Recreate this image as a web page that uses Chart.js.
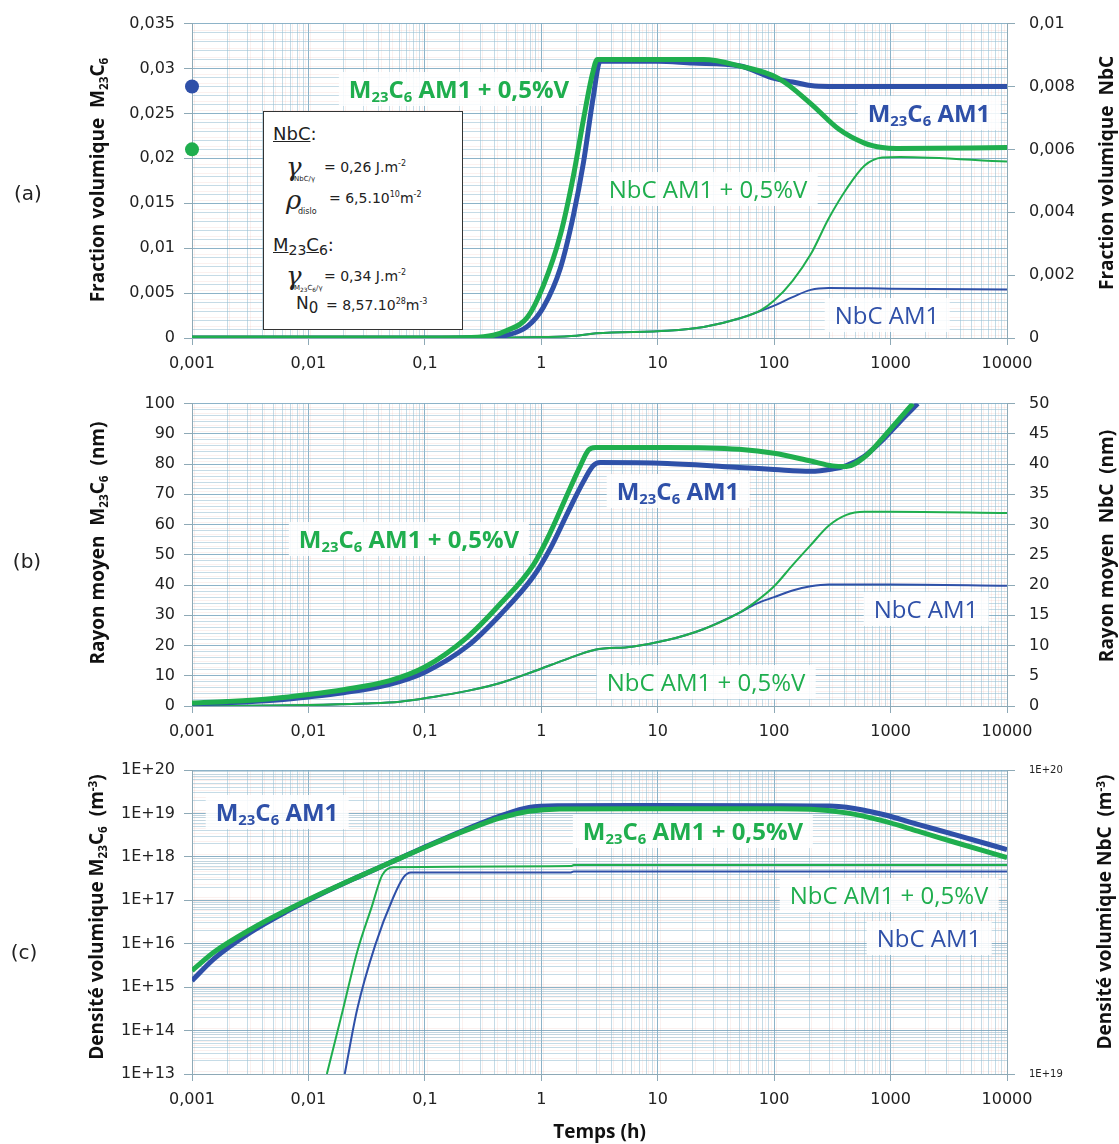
<!DOCTYPE html>
<html>
<head>
<meta charset="utf-8">
<script src="https://cdn.jsdelivr.net/npm/chart.js@4.4.1/dist/chart.umd.min.js"></script>
<style>
  body { margin: 0; background: #fff; }
  #wrap { position: relative; width: 1119px; height: 1144px; overflow: hidden; font-family: 'Open Sans', sans-serif; }
  canvas { position: absolute; left: 0; }
  .lbl { position: absolute; transform: translate(-50%, -50%); white-space: nowrap; font-size: 24px; line-height: 30px;
         background: rgba(255, 255, 255, 0.85); padding: 2px 10px; }
  .lbl sub, .yt sub { font-size: 0.62em; vertical-align: -0.3em; line-height: 0; }
  .yt sup { font-size: 0.62em; vertical-align: 0.55em; line-height: 0; }
  .b { font-weight: 700; }
  .blue { color: #2f50a8; }
  .green { color: #1fae4e; }
  .yt { position: absolute; transform: translate(-50%, -50%) rotate(-90deg); white-space: nowrap;
        font-weight: 700; font-size: 19px; color: #111; }
  .panel { position: absolute; transform: translate(-50%, -50%); font-family: 'DejaVu Sans'; font-size: 20px; color: #222; }
  #params { position: absolute; left: 263px; top: 111px; width: 198px; height: 217px; border: 1px solid #333;
            background: #fff; font-family: 'DejaVu Sans'; color: #222; }
  #params span { position: absolute; white-space: nowrap; line-height: 1; }
  #params sup { font-size: 8px; vertical-align: 6px; }
  .greek { font-family: 'DejaVu Serif'; font-style: italic; font-size: 26px; }
  .tiny { font-size: 7px; }
</style>
</head>
<body>
<div id="wrap">
  <canvas id="chartA" width="1119" height="380" style="top:0"></canvas>
  <canvas id="chartB" width="1119" height="370" style="top:380px"></canvas>
  <canvas id="chartC" width="1119" height="394" style="top:750px"></canvas>

  <div class="panel" style="left:28px;top:193px">(a)</div>
  <div class="panel" style="left:27px;top:561px">(b)</div>
  <div class="panel" style="left:24px;top:952px">(c)</div>

  <div class="yt" style="left:97px;top:180px">Fraction volumique&nbsp; M<sub>23</sub>C<sub>6</sub></div>
  <div class="yt" style="left:1106px;top:173px">Fraction volumique&nbsp; NbC</div>
  <div class="yt" style="left:97px;top:543px">Rayon moyen&nbsp; M<sub>23</sub>C<sub>6</sub>&nbsp; (nm)</div>
  <div class="yt" style="left:1106px;top:546px">Rayon moyen&nbsp; NbC&nbsp; (nm)</div>
  <div class="yt" style="left:96px;top:917px">Densité volumique M<sub>23</sub>C<sub>6</sub>&nbsp; (m<sup>-3</sup>)</div>
  <div class="yt" style="left:1104px;top:912px">Densité volumique NbC&nbsp; (m<sup>-3</sup>)</div>

  <div class="lbl b green" style="left:459px;top:89px">M<sub>23</sub>C<sub>6</sub> AM1 + 0,5%V</div>
  <div class="lbl b blue" style="left:929px;top:113px">M<sub>23</sub>C<sub>6</sub> AM1</div>
  <div class="lbl green" style="left:708px;top:189px">NbC AM1 + 0,5%V</div>
  <div class="lbl blue" style="left:887px;top:315px">NbC AM1</div>

  <div class="lbl b blue" style="left:678px;top:491px">M<sub>23</sub>C<sub>6</sub> AM1</div>
  <div class="lbl b green" style="left:409px;top:539px">M<sub>23</sub>C<sub>6</sub> AM1 + 0,5%V</div>
  <div class="lbl blue" style="left:926px;top:609px">NbC AM1</div>
  <div class="lbl green" style="left:706px;top:682px">NbC AM1 + 0,5%V</div>

  <div class="lbl b blue" style="left:277px;top:812px">M<sub>23</sub>C<sub>6</sub> AM1</div>
  <div class="lbl b green" style="left:693px;top:831px">M<sub>23</sub>C<sub>6</sub> AM1 + 0,5%V</div>
  <div class="lbl green" style="left:889px;top:895px">NbC AM1 + 0,5%V</div>
  <div class="lbl blue" style="left:929px;top:938px">NbC AM1</div>

  <div id="params">
    <span style="left:9px;top:13px;font-size:18px"><u>NbC</u>:</span>
    <span class="greek" style="left:22px;top:42px">γ</span>
    <span class="tiny" style="left:30px;top:64px">NbC/γ</span>
    <span style="left:60px;top:48px;font-size:14px">= 0,26 J.m<sup>-2</sup></span>
    <span class="greek" style="left:22px;top:75px">ρ</span>
    <span class="tiny" style="left:34px;top:96px;font-size:8px">dislo</span>
    <span style="left:65px;top:79px;font-size:14px">= 6,5.10<sup>10</sup>m<sup>-2</sup></span>
    <span style="left:9px;top:124px;font-size:18px"><u>M</u><span style="position:static;font-size:14px;vertical-align:-4px">23</span><u>C</u><span style="position:static;font-size:14px;vertical-align:-4px">6</span>:</span>
    <span class="greek" style="left:22px;top:151px">γ</span>
    <span class="tiny" style="left:30px;top:173px">M<sub>23</sub>C<sub>6</sub>/γ</span>
    <span style="left:60px;top:157px;font-size:14px">= 0,34 J.m<sup>-2</sup></span>
    <span style="left:32px;top:183px;font-size:17px">N<span style="position:static;font-size:15px;vertical-align:-4px">0</span></span>
    <span style="left:62px;top:186px;font-size:14px">= 8,57.10<sup>28</sup>m<sup>-3</sup></span>
  </div>
</div>

<script>
// ---------- (a) Fraction volumique ----------
const tA_M23_AM1 = [0.001, 0.1, 0.3, 0.5, 0.76, 1.04, 1.46, 1.89, 2.3, 2.8, 3.2, 10, 20, 50, 100, 144, 206, 294, 1000, 10000]
const fA_M23_AM1 = [0, 0, 0.00005, 0.0003, 0.0013, 0.0034, 0.0078, 0.0137, 0.0195, 0.0269, 0.0308, 0.0308, 0.0306, 0.0303, 0.0289, 0.0285, 0.0281, 0.028, 0.028, 0.028]
const tA_M23_V = [0.001, 0.1, 0.25, 0.387, 0.5, 0.76, 1.04, 1.46, 1.89, 2.3, 2.75, 3.03, 10, 24.8, 50, 109, 206, 363, 596, 847, 1125, 10000]
const fA_M23_V = [0, 0, 0.00005, 0.0003, 0.0008, 0.0023, 0.0058, 0.0115, 0.0181, 0.0243, 0.0294, 0.031, 0.031, 0.031, 0.0303, 0.0289, 0.0261, 0.0232, 0.0217, 0.0212, 0.0211, 0.0212]
const tA_NbC_AM1 = [0.001, 0.3, 1, 2, 2.96, 12.1, 24.8, 50, 100, 144, 206, 294, 1000, 10000]
const fA_NbC_AM1 = [0, 0.00001, 0.00003, 0.00007, 0.00015, 0.00023, 0.00035, 0.00062, 0.00103, 0.0013, 0.00153, 0.00159, 0.00157, 0.00154]
const tA_NbC_V = [0.001, 0.3, 1, 2, 2.96, 12.1, 24.8, 50, 76.5, 100, 144, 206, 294, 418, 596, 847, 1208, 10000]
const fA_NbC_V = [0, 0.00001, 0.00003, 0.00007, 0.00015, 0.00023, 0.00035, 0.00062, 0.00088, 0.00119, 0.00182, 0.00266, 0.0038, 0.00474, 0.00548, 0.00574, 0.00576, 0.00561]
// starting values marked by dots at t = 0.001 (AM1, AM1 + 0,5%V)
const dotsA = [0.028, 0.021]

// ---------- (b) Rayon moyen (nm) ----------
const tB_M23_AM1 = [0.001, 0.002, 0.005, 0.01, 0.02, 0.05, 0.1, 0.232, 0.445, 0.855, 1.2, 1.68, 2.3, 2.8, 3.2, 12.1, 50, 100, 206, 317, 418, 596, 847, 1208, 1714]
const rB_M23_AM1 = [0.7, 1.1, 1.9, 3.0, 4.4, 7.2, 11.2, 19.8, 30.2, 42.8, 52.2, 63.8, 74.2, 79.5, 80.5, 80.2, 78.9, 78.2, 77.6, 78.4, 79.5, 82.6, 87.8, 94.1, 100]
const tB_M23_V = [0.001, 0.002, 0.005, 0.01, 0.02, 0.05, 0.1, 0.232, 0.445, 0.855, 1.2, 1.68, 2.17, 2.54, 2.92, 12.1, 50, 100, 206, 317, 418, 596, 847, 1208, 1553]
const rB_M23_V = [1.0, 1.5, 2.5, 3.8, 5.4, 8.4, 12.9, 22.8, 33.8, 46.7, 57.5, 70.1, 79.5, 84.6, 85.5, 85.5, 84.9, 83.6, 81.0, 79.4, 79.2, 82.3, 88.4, 95.2, 100]
const tB_NbC_AM1 = [0.001, 0.01, 0.03, 0.061, 0.118, 0.232, 0.445, 0.855, 1.68, 2.9, 6.0, 12.1, 24.6, 50, 70, 100, 144, 206, 294, 1000, 10000]
const rB_NbC_AM1 = [0, 0.15, 0.4, 0.7, 1.5, 2.5, 3.8, 5.7, 7.8, 9.3, 9.8, 10.9, 12.7, 15.4, 16.9, 18.0, 19.1, 19.8, 20.1, 20.1, 19.9]
const tB_NbC_V = [0.001, 0.01, 0.03, 0.061, 0.118, 0.232, 0.445, 0.855, 1.68, 2.9, 6.0, 12.1, 24.6, 50, 70, 100, 144, 206, 294, 418, 596, 1000, 10000]
const rB_NbC_V = [0, 0.15, 0.4, 0.7, 1.5, 2.5, 3.8, 5.7, 7.8, 9.3, 9.8, 10.9, 12.7, 15.4, 17.3, 19.8, 23.3, 26.6, 29.8, 31.6, 32.1, 32.1, 31.9]

// ---------- (c) Densité volumique (m-3) ----------
const tC_M23_AM1 = [0.001, 0.00156, 0.00315, 0.0064, 0.013, 0.0262, 0.0534, 0.108, 0.219, 0.445, 0.783, 1.44, 10, 100, 300, 418, 847, 1714, 3490, 10000]
const nC_M23_AM1 = [1.41e15, 4.6e15, 1.8e16, 5.4e16, 1.41e17, 3.37e17, 7.9e17, 1.85e18, 4.16e18, 8.75e18, 1.38e19, 1.5e19, 1.52e19, 1.51e19, 1.48e19, 1.39e19, 9.6e18, 5.6e18, 3.3e18, 1.47e18]
const tC_M23_V = [0.001, 0.00156, 0.00315, 0.0064, 0.013, 0.0262, 0.0534, 0.108, 0.219, 0.445, 0.783, 1.44, 10, 100, 206, 418, 847, 1714, 3490, 10000]
const nC_M23_V = [2.4e15, 6.5e15, 2.1e16, 5.8e16, 1.45e17, 3.4e17, 7.9e17, 1.8e18, 3.95e18, 7.9e18, 1.12e19, 1.27e19, 1.29e19, 1.28e19, 1.25e19, 1.03e19, 6.8e18, 3.9e18, 2.2e18, 9.6e17]
const tC_NbC_AM1 = [0.0205, 0.0262, 0.0374, 0.0534, 0.066, 0.076, 1.8, 1.9, 10000]
const nC_NbC_AM1 = [1e19, 1.63e19, 2.65e19, 3.8e19, 4.45e19, 4.6e19, 4.6e19, 4.64e19, 4.64e19]
const tC_NbC_V = [0.0144, 0.0198, 0.0262, 0.0349, 0.043, 0.0534, 1.8, 1.9, 10000]
const nC_NbC_V = [1e19, 1.63e19, 2.52e19, 3.54e19, 4.51e19, 4.79e19, 4.83e19, 4.87e19, 4.87e19]

const BLUE = '#2f50a8'
const GREEN = '#1fae4e'
const GRID_MAJOR = 'rgba(112,160,186,0.8)'
const GRID_MINOR = 'rgba(150,190,210,0.55)'
const AXIS = '#8ea9b6'
const NONE = 'rgba(0,0,0,0)'
const TICK_FONT = {family: 'DejaVu Sans', size: 16}

const comma = (v) => String(v).replace('.', ',')

function logTicks(lo, hi) {
  let out = []
  for (let e = lo; e < hi; e++) {
    for (let m = 1; m < 10; m++) {
      out.push({value: +(m * Math.pow(10, e)).toPrecision(6), major: m === 1})
    }
  }
  out.push({value: Math.pow(10, hi), major: true})
  return out
}

function linTicks(max, minor, major) {
  let out = []
  let n = Math.round(max / minor)
  let every = Math.round(major / minor)
  for (let i = 0; i <= n; i++) {
    out.push({value: +(i * minor).toFixed(6), major: i % every === 0})
  }
  return out
}

const gridColor = (c) => (c.tick && c.tick.major ? GRID_MAJOR : GRID_MINOR)
const markColor = (c) => (c.tick && c.tick.major ? AXIS : NONE)
const majorLabel = (fmt) => (v, i, t) => (t[i].major ? fmt(v) : '')

function line(t, v, color, width, axis) {
  return {
    data: t.map((x, i) => ({x: x, y: v[i]})),
    borderColor: color,
    borderWidth: width,
    pointRadius: 0,
    fill: false,
    cubicInterpolationMode: 'monotone',
    yAxisID: axis,
  }
}

function xAxis(height, withTitle) {
  return {
    type: 'logarithmic',
    position: 'bottom',
    min: 0.001,
    max: 10000,
    afterBuildTicks: (s) => { s.ticks = logTicks(-3, 4) },
    afterFit: (s) => { s.height = height },
    ticks: {autoSkip: false, maxRotation: 0, font: TICK_FONT, color: '#222', padding: 9, callback: majorLabel(comma)},
    grid: {color: gridColor, tickColor: markColor, tickLength: 7},
    border: {color: AXIS},
    title: {
      display: withTitle,
      text: 'Temps (h)',
      color: '#111',
      font: {family: 'Open Sans', size: 19, weight: 'bold'},
      padding: {top: 4, bottom: 0},
    },
  }
}

function leftAxis(type, min, max, ticks, fmt) {
  return {
    type: type,
    position: 'left',
    min: min,
    max: max,
    afterBuildTicks: (s) => { s.ticks = ticks },
    afterFit: (s) => { s.width = 192 },
    ticks: {autoSkip: false, font: TICK_FONT, color: '#222', padding: 9, callback: majorLabel(fmt)},
    grid: {color: gridColor, tickColor: markColor, tickLength: 8},
    border: {color: AXIS},
  }
}

function rightAxis(type, min, max, ticks, fmt, fontSize) {
  return {
    type: type,
    position: 'right',
    min: min,
    max: max,
    afterBuildTicks: (s) => { s.ticks = ticks },
    afterFit: (s) => { s.width = 112 },
    ticks: {autoSkip: false, font: {family: 'DejaVu Sans', size: fontSize}, color: '#222', padding: 14, callback: majorLabel(fmt)},
    grid: {drawOnChartArea: false, tickColor: AXIS, tickLength: 8},
    border: {color: AXIS},
  }
}

// faint reddish doubling of the grid, as on the scanned figure
const halo = {
  id: 'halo',
  beforeDraw(chart) {
    let {ctx, chartArea: a} = chart
    ctx.save()
    ctx.strokeStyle = 'rgba(232,165,155,0.16)'
    ctx.lineWidth = 1
    ctx.beginPath()
    for (let t of chart.scales.x.ticks) {
      let p = Math.round(chart.scales.x.getPixelForValue(t.value)) + 2.5
      if (p < a.right) { ctx.moveTo(p, a.top); ctx.lineTo(p, a.bottom) }
    }
    for (let t of chart.scales.y.ticks) {
      let p = Math.round(chart.scales.y.getPixelForValue(t.value)) - 2.5
      if (p > a.top) { ctx.moveTo(a.left, p); ctx.lineTo(a.right, p) }
    }
    ctx.stroke()
    ctx.restore()
  },
}

function makeChart(id, datasets, scales, padTop) {
  return new Chart(document.getElementById(id), {
    type: 'line',
    data: {datasets: datasets},
    options: {
      responsive: false,
      animation: false,
      layout: {padding: {top: padTop, left: 0, right: 0, bottom: 0}},
      plugins: {legend: {display: false}, tooltip: {enabled: false}},
      scales: scales,
    },
    plugins: [halo],
  })
}

const fracFmt = (v) => comma(+v.toFixed(3))

makeChart('chartA', [
  {
    data: dotsA.map((v) => ({x: 0.001, y: v})),
    showLine: false,
    pointRadius: 7,
    pointBackgroundColor: [BLUE, GREEN],
    pointBorderWidth: 0,
    clip: false,
    yAxisID: 'y',
  },
  line(tA_M23_V, fA_M23_V, GREEN, 5, 'y'),
  line(tA_M23_AM1, fA_M23_AM1, BLUE, 5, 'y'),
  line(tA_NbC_V, fA_NbC_V, GREEN, 2, 'y2'),
  line(tA_NbC_AM1, fA_NbC_AM1, BLUE, 2, 'y2'),
], {
  x: xAxis(42, false),
  y: leftAxis('linear', 0, 0.035, linTicks(0.035, 0.001, 0.005), fracFmt),
  y2: rightAxis('linear', 0, 0.01, linTicks(0.01, 0.002, 0.002), fracFmt, 16),
}, 19)

makeChart('chartB', [
  line(tB_M23_V, rB_M23_V, GREEN, 5, 'y'),
  line(tB_M23_AM1, rB_M23_AM1, BLUE, 5, 'y'),
  line(tB_NbC_V, rB_NbC_V, GREEN, 2, 'y2'),
  line(tB_NbC_AM1, rB_NbC_AM1, BLUE, 2, 'y2'),
], {
  x: xAxis(44, false),
  y: leftAxis('linear', 0, 100, linTicks(100, 2, 10), String),
  y2: rightAxis('linear', 0, 50, linTicks(50, 5, 5), String, 16),
}, 8)

const expFmt = (v) => '1E+' + Math.round(Math.log10(v))

makeChart('chartC', [
  line(tC_M23_V, nC_M23_V, GREEN, 5, 'y'),
  line(tC_M23_AM1, nC_M23_AM1, BLUE, 5, 'y'),
  line(tC_NbC_V, nC_NbC_V, GREEN, 2, 'y2'),
  line(tC_NbC_AM1, nC_NbC_AM1, BLUE, 2, 'y2'),
], {
  x: xAxis(70, true),
  y: leftAxis('logarithmic', 1e13, 1e20, logTicks(13, 20), expFmt),
  y2: rightAxis('logarithmic', 1e19, 1e20, [{value: 1e19, major: true}, {value: 1e20, major: true}], expFmt, 10),
}, 7)
</script>
</body>
</html>
